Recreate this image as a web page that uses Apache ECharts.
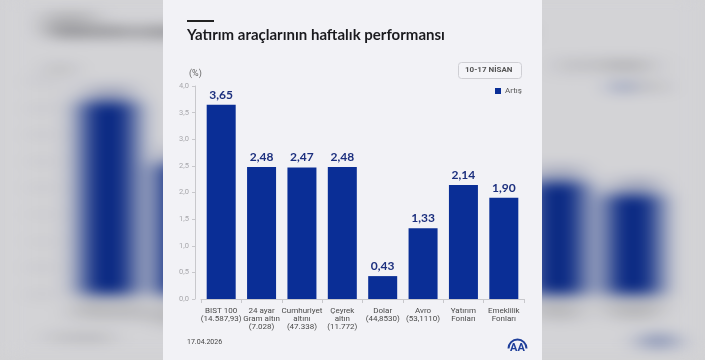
<!DOCTYPE html>
<html>
<head>
<meta charset="utf-8">
<script src="https://cdn.jsdelivr.net/npm/echarts@6/dist/echarts.min.js"></script>
<style>
  html, body { margin: 0; padding: 0; width: 705px; height: 360px; overflow: hidden; background: #d2d2d4; }
  #bg { position: absolute; left: 163px; top: 0; width: 379px; height: 360px; background: #f2f2f6;
        transform: translateY(-4px) scaleX(1.856); transform-origin: 190px 180px;
        filter: blur(7px) brightness(0.87); }
  #card { position: absolute; left: 163px; top: 0; width: 379px; height: 360px; background: #f2f2f6; }
</style>
</head>
<body>
<div id="bg"></div>
<div id="card"></div>
<script>
const titleText = 'Yatırım araçlarının haftalık performansı';
const dateRange = '10-17 NİSAN';
const unitLabel = '(%)';
const dateText = '17.04.2026';
const seriesName = 'Artış';
const categories = [
  'BIST 100\n(14.587,93)',
  '24 ayar\nGram altın\n(7.028)',
  'Cumhuriyet\naltını\n(47.338)',
  'Çeyrek\naltın\n(11.772)',
  'Dolar\n(44,8530)',
  'Avro\n(53,1110)',
  'Yatırım\nFonları',
  'Emeklilik\nFonları'
];
const values = [3.65, 2.48, 2.47, 2.48, 0.43, 1.33, 2.14, 1.90];
const yMin = 0, yMax = 4, yStep = 0.5;

const BAR = '#0a2e96';
const FONT = 'Lato, "Noto Sans", sans-serif';
const comma = (v, d) => v.toFixed(d).replace('.', ',');

function buildOption() {
  return {
    animation: false,
    textStyle: { fontFamily: FONT },
    title: {
      text: titleText, left: 24, top: 28, padding: 0,
      textStyle: { fontSize: 15, fontWeight: 'bold', color: '#1b1b1f', fontFamily: FONT }
    },
    legend: {
      data: [seriesName], left: 332, top: 87, icon: 'rect', itemWidth: 6, itemHeight: 6, itemGap: 3,
      padding: 0, textStyle: { fontSize: 8, color: '#555', fontFamily: 'Roboto, sans-serif', padding: [0,0,0,-1] }
    },
    grid: { left: 38, right: 18, top: 86, bottom: 61, containLabel: false },
    xAxis: {
      type: 'category', data: categories,
      axisLine: { lineStyle: { color: '#c8c8cc', width: 1 } },
      axisTick: { show: true, alignWithLabel: false, length: 4, lineStyle: { color: '#c8c8cc' } },
      axisLabel: { interval: 0, fontSize: 8, lineHeight: 7.8, color: '#4a4a4a', margin: 8,
                   fontFamily: 'Roboto, sans-serif', verticalAlign: 'top' }
    },
    yAxis: {
      type: 'value', min: yMin, max: yMax, interval: yStep, offset: 6,
      axisLine: { show: true, lineStyle: { color: '#c8c8cc' } },
      axisTick: { show: true, length: 3, lineStyle: { color: '#c8c8cc' } },
      splitLine: { show: false },
      axisLabel: { fontSize: 7.5, color: '#a8a8ac', margin: 6, fontFamily: 'Roboto, sans-serif',
                   formatter: v => comma(v, 1) }
    },
    series: [{
      name: seriesName, type: 'bar', data: values, barWidth: 29,
      itemStyle: { color: BAR },
      label: { show: true, position: 'top', distance: 4, fontSize: 12, fontWeight: 'bold',
               color: '#1c2f7e', fontFamily: FONT, formatter: p => comma(p.value, 2) }
    }],
    graphic: [
      { type: 'rect', left: 24, top: 20, shape: { width: 27, height: 2 }, style: { fill: '#222' } },
      { type: 'text', left: 26, top: 69, style: { text: unitLabel, fontSize: 9, fill: '#666', fontFamily: 'Roboto, sans-serif' } },
      { type: 'rect', left: 295, top: 62, shape: { width: 63, height: 16, r: 3 },
        style: { fill: '#f4f4f8', stroke: '#cfcfd4', lineWidth: 1 } },
      { type: 'text', left: 302, top: 66, style: { text: dateRange, fontSize: 8, fontWeight: 'bold', fill: '#555', fontFamily: 'Roboto, sans-serif' } },
      { type: 'text', left: 24, top: 339, style: { text: dateText, fontSize: 7, fill: '#444', fontFamily: 'Roboto, sans-serif' } },
      { type: 'group', left: 343, top: 337, children: [
          { type: 'arc', shape: { cx: 11, cy: 9, r: 9, startAngle: Math.PI, endAngle: 2 * Math.PI },
            style: { stroke: '#1f3f9a', lineWidth: 2, fill: null } },
          { type: 'text', x: 11, y: 9, style: { text: 'AA', fontSize: 11, fontWeight: 'bold', fill: '#1f3f9a',
            align: 'center', verticalAlign: 'middle', fontFamily: 'Roboto, sans-serif' } }
      ] }
    ]
  };
}

const bg = echarts.init(document.getElementById('bg'), null, { renderer: 'canvas' });
bg.setOption(buildOption());
const card = echarts.init(document.getElementById('card'), null, { renderer: 'canvas' });
card.setOption(buildOption());
</script>
</body>
</html>
